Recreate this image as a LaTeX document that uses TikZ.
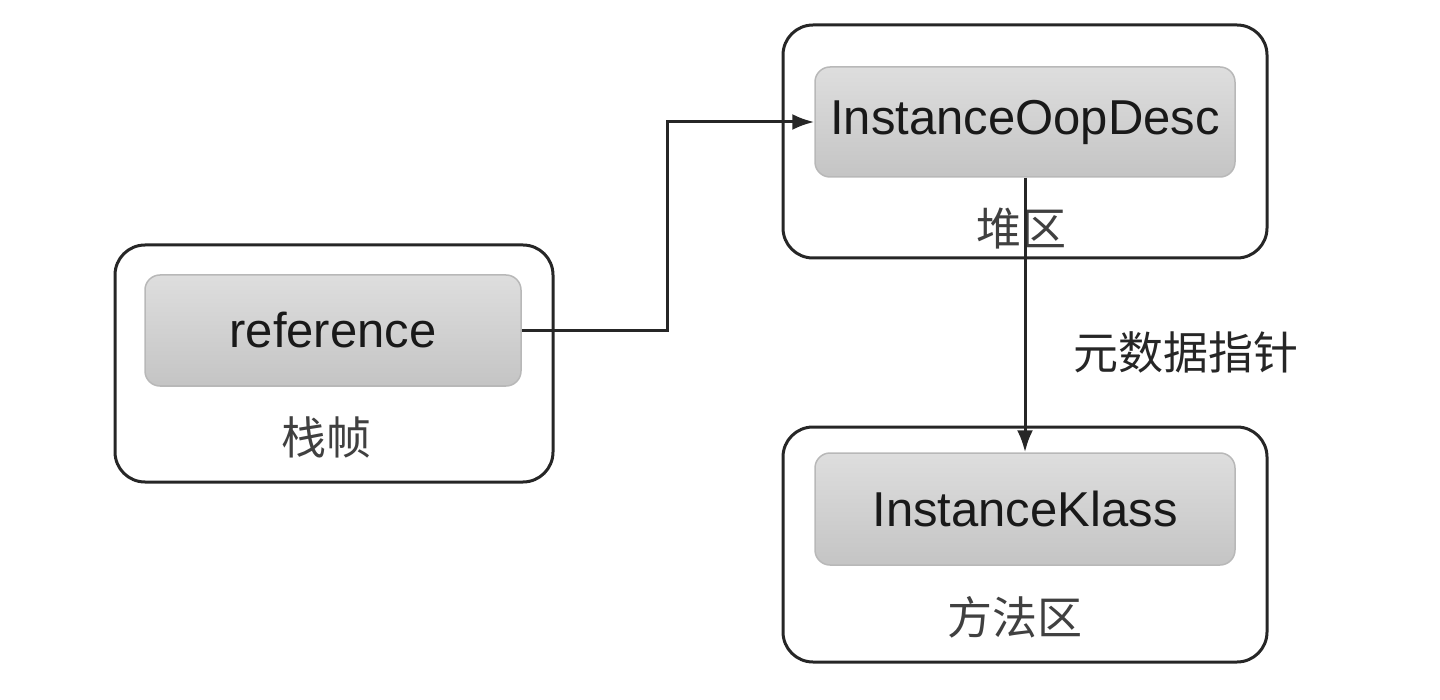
\documentclass[tikz,border=0pt]{standalone}
\usepackage{fontspec}
\setmainfont{Liberation Sans}
\newfontfamily\cjk{Noto Sans CJK SC}
\usetikzlibrary{arrows.meta}
\tikzset{
  frame/.style={draw=black!85,line width=3pt,rounded corners=30pt},
  cell/.style={draw=black!28,line width=1.5pt,rounded corners=15pt,top color=black!13,bottom color=black!23,
    font=\fontsize{49}{58}\selectfont,text=black!90},
  area/.style={font=\cjk\fontsize{45}{54}\selectfont,text=black!75},
  pointer/.style={-{Latex[length=22pt,width=16pt]},line width=3pt,draw=black!85},
}
\begin{document}
\begin{tikzpicture}[x=1pt,y=-1pt]
			\useasboundingbox (0,0) rectangle (1440,700);
			% outer boxes
			\node[frame,minimum width=438pt,minimum height=237pt] (stack) at (334,363.5) {};
			\node[frame,minimum width=484pt,minimum height=233pt] (heap) at (1025,141.5) {};
			\node[frame,minimum width=484pt,minimum height=235pt] (method) at (1025,544.5) {};
			% inner cells
			\node[cell,minimum width=376pt,minimum height=111pt] (ref) at (333,330.5) {reference};
			\node[cell,minimum width=420pt,minimum height=110pt] (oop) at (1025,122) {InstanceOopDesc};
			\node[cell,minimum width=420pt,minimum height=112pt] (klass) at (1025,509) {InstanceKlass};
			% area names
			\node[area] (stacklbl) at (326,437) {栈帧};
			\node[area] (heaplbl) at (1021,229) {堆区};
			\node[area] (methodlbl) at (1015,617) {方法区};
			\node[area,anchor=west,text=black!85] (meta) at (1070,352) {元数据指针};
			% pointers
			\draw[pointer] (ref.east) -- ++(146,0) |- (oop.west);
			\draw[pointer] (oop.south) -- (klass.north);
		\end{tikzpicture}
\end{document}
